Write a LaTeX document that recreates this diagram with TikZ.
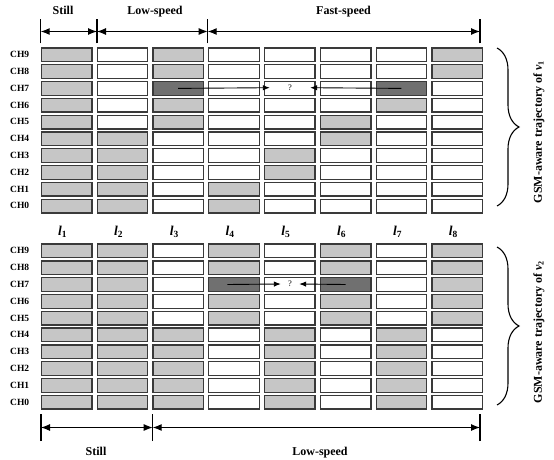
\documentclass[tikz,border=0pt]{standalone}
\usepackage{fontspec}
\setmainfont{Liberation Serif}
\usetikzlibrary{arrows.meta,decorations.pathreplacing}
\definecolor{cg}{HTML}{C6C6C6}
\definecolor{cd}{HTML}{707070}
\definecolor{edge}{HTML}{3A3A3A}
\begin{document}
\begin{tikzpicture}[x=1pt,y=-1pt,
  cell/.style={draw=edge, line width=1.3pt, minimum width=50.5pt, minimum height=13.7pt, inner sep=0pt, anchor=north west},
  cellG/.style={fill=cg}, cellW/.style={fill=white}, cellD/.style={fill=cd},
  chl/.style={font=\bfseries\fontsize{9.5}{10}\selectfont, anchor=base west, inner sep=0pt},
  hdr/.style={font=\bfseries\fontsize{12}{14}\selectfont, anchor=base, inner sep=0pt},
  lbl/.style={font=\bfseries\itshape\fontsize{13.5}{15}\selectfont, anchor=base, inner sep=0pt},
  side/.style={font=\bfseries\fontsize{12}{14}\selectfont, rotate=90, inner sep=0pt},
  spanarrow/.style={{Latex[length=9pt,width=7pt]}-{Latex[length=9pt,width=7pt]}, line width=1.1pt},
  ticker/.style={line width=1.1pt},
  mv/.style={-{Latex[length=7pt,width=5.5pt]}, line width=0.9pt},
  qm/.style={font=\fontsize{8.5}{9}\selectfont, inner sep=0pt, minimum height=8pt},
  br/.style={decorate, decoration={brace, amplitude=22pt}, line width=1.1pt}
]
\useasboundingbox (0,0) rectangle (554,460);
% top grid (rows CH9 ... CH0)
\foreach \row [count=\r from 0] in {
  {G,W,G,W,W,W,W,G},{G,W,G,W,W,W,W,G},{G,W,D,W,W,W,D,W},{G,W,G,W,W,W,G,W},{G,W,G,W,W,G,W,W},
  {G,G,W,W,W,G,W,W},{G,G,W,W,G,W,W,W},{G,G,W,W,G,W,W,W},{G,G,W,G,W,W,W,W},{G,G,W,G,W,W,W,W}} {
  \foreach \s [count=\c] in \row {
    \node[cell, cell\s] (T\r-\c) at ({40.7+(\c-1)*55.8}, {47.3+\r*16.8}) {};
  }
}
% bottom grid
\foreach \row [count=\r from 0] in {
  {G,G,W,G,W,G,W,G},{G,G,W,G,W,G,W,G},{G,G,W,D,W,D,W,G},{G,G,W,G,W,G,W,G},{G,G,W,G,W,G,W,G},
  {G,G,G,W,G,W,G,W},{G,G,G,W,G,W,G,W},{G,G,G,W,G,W,G,W},{G,G,G,W,G,W,G,W},{G,G,G,W,G,W,G,W}} {
  \foreach \s [count=\c] in \row {
    \node[cell, cell\s] (B\r-\c) at ({40.7+(\c-1)*55.8}, {243.4+\r*16.8}) {};
  }
}
% channel labels
\foreach \r in {0,...,9} {
  \pgfmathtruncatemacro\ch{9-\r}
  \node[chl] (tc\r) at (10, {47.3+\r*16.8+10.4}) {CH\ch};
  \node[chl] (bc\r) at (10, {243.4+\r*16.8+10.4}) {CH\ch};
}
% location labels
\foreach \c in {1,...,8} {
  \node[lbl] (L\c) at ({40.7+(\c-1)*55.8+22}, 235) {l\textsubscript{\upshape\c}};
}
% top header
\coordinate (a0) at (40.7,31.5);
\coordinate (a1) at (97,31.5);
\coordinate (a2) at (207.7,31.5);
\coordinate (a3) at (480,31.5);
\foreach \i in {0,...,3} \draw[ticker] ([yshift=-12pt]a\i) -- ([yshift=12pt]a\i);
\draw[spanarrow] (a0) -- (a1);
\draw[spanarrow] (a1) -- (a2);
\draw[spanarrow] (a2) -- (a3);
\node[hdr] (hs) at (63,15) {Still};
\node[hdr] (hl) at (155,15) {Low-speed};
\node[hdr] (hf) at (343.5,15) {Fast-speed};
% bottom header
\coordinate (b0) at (41,427.5);
\coordinate (b1) at (152.7,427.5);
\coordinate (b2) at (480,427.5);
\foreach \i in {0,...,2} \draw[ticker] ([yshift=-13.5pt]b\i) -- ([yshift=13.5pt]b\i);
\draw[spanarrow] (b0) -- (b1);
\draw[spanarrow] (b1) -- (b2);
\node[hdr] (bs) at (96,455) {Still};
\node[hdr] (bl) at (320,455) {Low-speed};
% inner arrows
\node[qm, minimum width=40pt] (q1) at (290,87.7) {?};
\draw[mv] (T2-3.center) -- (q1.west);
\draw[mv] (T2-7.center) -- (q1.east);
\node[qm, minimum width=18pt] (q2) at (290,284) {?};
\draw[mv] ([xshift=-6.6pt]B2-4.center) -- (q2.west);
\draw[mv] (B2-6.center) -- (q2.east);
% braces
\coordinate (u0) at (497,48);
\coordinate (u1) at (497,206);
\draw[br] (u0) -- (u1);
\node[side] (s1) at (539,132) {GSM-aware trajectory of \textit{v}\textsubscript{1}};
\coordinate (v0) at (497,247);
\coordinate (v1) at (497,405);
\draw[br] (v0) -- (v1);
\node[side] (s2) at (539,332) {GSM-aware trajectory of \textit{v}\textsubscript{2}};
\end{tikzpicture}
\end{document}
